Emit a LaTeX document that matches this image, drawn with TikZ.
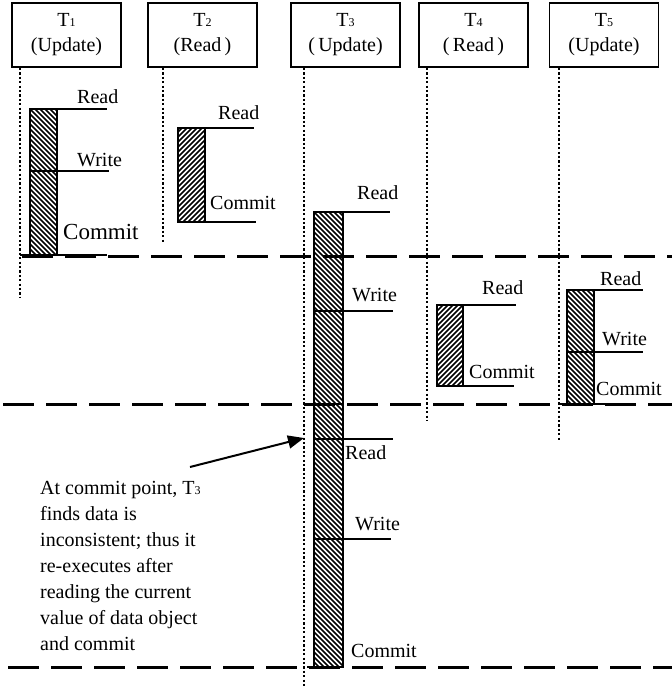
\documentclass[tikz,border=0pt]{standalone}
\usepackage{fontspec}
\setmainfont{Liberation Serif}
\usetikzlibrary{arrows.meta}
\newcommand\tsub[1]{{\fontsize{12}{12}\selectfont #1}}
% hatched bar: #1 x1, #2 y1, #3 x2, #4 y2, #5 direction (1 = "\", -1 = "/")
\newcommand\hatchbox[5]{%
  \begin{scope}
    \clip (#1,#2) rectangle (#3,#4);
    \foreach \k in {-480,-475,...,40}{
      \ifnum#5=1
        \draw[hatch] (#1+\k,#2) -- ++(480,480);
      \else
        \draw[hatch] (#1+\k,#4) -- ++(480,-480);
      \fi
    }
  \end{scope}
  \draw[barframe] (#1,#2) rectangle (#3,#4);
}
\begin{document}
\begin{tikzpicture}[x=1pt,y=-1pt,
  tbox/.style={draw,line width=1.8pt,minimum width=109pt,minimum height=64pt,align=center,inner sep=0pt,font=\fontsize{20}{25}\selectfont},
  life/.style={line width=2.6pt,dash pattern=on 2.2pt off 2.2pt},
  sepline/.style={line width=3pt,dash pattern=on 31pt off 12pt},
  opline/.style={line width=2pt},
  hatch/.style={line width=1.6pt},
  barframe/.style={line width=1.8pt},
  lbl/.style={anchor=west,inner sep=0pt,font=\fontsize{20}{24}\selectfont},
  note/.style={anchor=north west,inner sep=0pt,align=left,font=\fontsize{20}{26}\selectfont}]
\useasboundingbox (0,0) rectangle (672,689);

% header boxes
\node[tbox] (t1) at (66.5,35) {T\tsub{1}\\(Update)};
\node[tbox] (t2) at (202.5,35) {T\tsub{2}\\(Read\,)};
\node[tbox] (t3) at (345.5,35) {T\tsub{3}\\(\,Update)};
\node[tbox] (t4) at (473.5,35) {T\tsub{4}\\(\,Read\,)};
\node[tbox] (t5) at (604,35) {T\tsub{5}\\(Update)};

% lifelines
\coordinate (e1) at (20,298);
\coordinate (e2) at (163,243);
\coordinate (e3) at (304,688);
\coordinate (e4) at (427,420);
\coordinate (e5) at (559,440);
\draw[life] (t1.south -| e1) -- (e1);
\draw[life] (t2.south -| e2) -- (e2);
\draw[life] (t3.south -| e3) -- (e3);
\draw[life] (t4.south -| e4) -- (e4);
\draw[life] (t5.south -| e5) -- (e5);

% separators
\draw[sepline] (22,256) -- (672,256);
\draw[sepline] (3,404) -- (672,404);
\draw[sepline] (8,667) -- (672,667);

% T1
\hatchbox{30}{109}{57}{255}{1}
\draw[opline] (30,109) -- (107,109);
\draw[opline] (30,171) -- (109,171);
\draw[opline] (20,255) -- (107,255);
\node[lbl] (r1) at (77,97) {Read};
\node[lbl] (w1) at (77,160) {Write};
\node[lbl,font=\fontsize{23}{26}\selectfont] (c1) at (63,232) {Commit};

% T2
\hatchbox{178}{128}{205}{222}{-1}
\draw[opline] (178,128) -- (254,128);
\draw[opline] (178,222) -- (256,222);
\node[lbl] (r2) at (218,113) {Read};
\node[lbl] (c2) at (210,203) {Commit};

% T3
\hatchbox{314}{212}{343}{667}{1}
\draw[opline] (314,212) -- (390,212);
\draw[opline] (314,311) -- (393,311);
\draw[opline] (304,404) -- (343,404);
\draw[opline] (314,439) -- (393,439);
\draw[opline] (314,539) -- (391,539);
\draw[opline] (307,667) -- (343,667);
\node[lbl] (r3) at (357,193) {Read};
\node[lbl] (w3) at (352,295) {Write};
\node[lbl] (r3b) at (345,453) {Read};
\node[lbl] (w3b) at (355,524) {Write};
\node[lbl] (c3) at (351,651) {Commit};

% T4
\hatchbox{437}{305}{463}{386}{-1}
\draw[opline] (437,305) -- (516,305);
\draw[opline] (437,386) -- (514,386);
\node[lbl] (r4) at (482,288) {Read};
\node[lbl] (c4) at (469,372) {Commit};

% T5
\hatchbox{567}{290}{594}{404}{1}
\draw[opline] (567,290) -- (643,290);
\draw[opline] (567,352) -- (643,352);
\draw[opline] (560,404) -- (635,404);
\node[lbl] (r5) at (600,279) {Read};
\node[lbl] (w5) at (602,339) {Write};
\node[lbl] (c5) at (596,389) {Commit};

% annotation
\node[note] (n) at (40,481) {At commit point, T\tsub{3}\\finds data is\\inconsistent; thus it\\re-executes after\\reading the current\\value of data object\\and commit};
\coordinate (tail) at (190,467);
\coordinate (tip) at (304,438);
\draw[line width=2pt,-{Triangle[length=16pt,width=13pt]}] (tail) -- (tip);
\end{tikzpicture}
\end{document}
